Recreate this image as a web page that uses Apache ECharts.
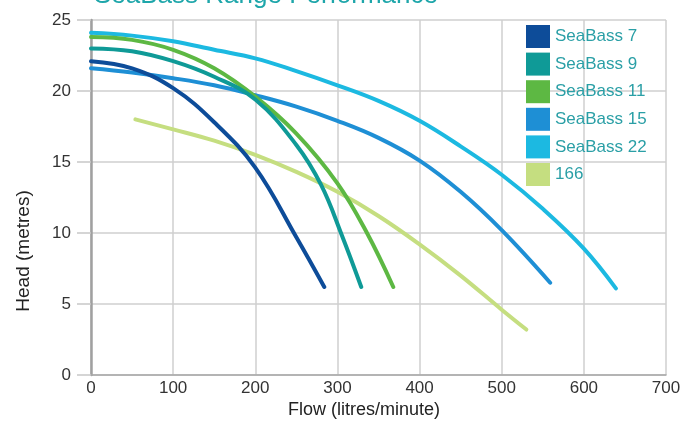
<!DOCTYPE html>
<html>
<head>
<meta charset="utf-8">
<script src="https://cdn.jsdelivr.net/npm/echarts@6/dist/echarts.min.js"></script>
<style>
html,body{margin:0;padding:0;background:#fff;}
#c{width:697px;height:427px;}
</style>
</head>
<body>
<div id="c"></div>
<script>
const titleText = 'SeaBass Range Performance';
const xName = 'Flow (litres/minute)';
const yName = 'Head (metres)';
const seriesNames = ['SeaBass 7', 'SeaBass 9', 'SeaBass 11', 'SeaBass 15', 'SeaBass 22', '166'];
const seriesColors = ['#0d4c99', '#0f9a97', '#5db843', '#1e8fd5', '#1cb9e1', '#c5de80'];

const seaBass7 = [[0,22.1],[50,21.6],[100,20.2],[150,17.8],[200,14.6],[250,9.7],[284,6.2]];
const seaBass9 = [[0,23.0],[50,22.8],[100,22.1],[150,21.0],[200,19.4],[250,16.2],[280,13.4],[305,9.9],[329,6.2]];
const seaBass11 = [[0,23.8],[50,23.6],[100,22.9],[150,21.6],[200,19.6],[250,17.0],[300,13.5],[336,10.0],[368,6.2]];
const seaBass15 = [[0,21.6],[50,21.3],[100,20.9],[150,20.4],[200,19.7],[250,18.9],[300,17.9],[350,16.7],[400,15.1],[450,12.9],[500,10.2],[559,6.5]];
const seaBass22 = [[0,24.1],[50,23.9],[100,23.5],[150,22.9],[200,22.3],[250,21.4],[300,20.4],[350,19.3],[400,17.9],[450,16.1],[500,14.1],[550,11.7],[600,8.9],[639,6.1]];
const model166 = [[54,18.0],[100,17.3],[150,16.5],[200,15.5],[250,14.3],[300,12.9],[350,11.2],[400,9.2],[450,7.0],[500,4.6],[530,3.2]];
const seriesData = [seaBass7, seaBass9, seaBass11, seaBass15, seaBass22, model166];

const xMin = 0, xMax = 700, xStep = 100;
const yMin = 0, yMax = 25, yStep = 5;

const chart = echarts.init(document.getElementById('c'));
const font = 'Liberation Sans, Arial, Helvetica, sans-serif';
chart.setOption({
  animation: false,
  backgroundColor: '#fff',
  title: {
    text: titleText,
    left: 94,
    top: -17,
    padding: 0,
    textStyle: { color: '#1ea6aa', fontSize: 26, fontWeight: 'normal', fontFamily: font }
  },
  legend: {
    orient: 'vertical',
    left: 521,
    top: 20,
    itemWidth: 24,
    itemHeight: 23,
    itemGap: 4.6,
    icon: 'rect',
    data: seriesNames,
    textStyle: { color: '#2a9fa6', fontSize: 17, fontFamily: font }
  },
  grid: { left: 91, right: 31, top: 20, bottom: 52, containLabel: false },
  xAxis: {
    type: 'value', min: xMin, max: xMax, interval: xStep,
    axisLine: { show: true, lineStyle: { color: '#a8a8a8', width: 1.5 } },
    axisTick: { show: false },
    axisLabel: { color: '#333', fontSize: 17, fontFamily: font, margin: 5 },
    splitLine: { show: true, lineStyle: { color: '#cfcfcf', width: 1.5 } }
  },
  yAxis: {
    type: 'value', min: yMin, max: yMax, interval: yStep,
    axisLine: { show: true, lineStyle: { color: '#a0a0a0', width: 2.5 } },
    axisTick: { show: true, inside: false, length: 14, lineStyle: { color: '#c8c8c8', width: 1.5 } },
    axisLabel: { color: '#333', fontSize: 17, fontFamily: font, margin: 20 },
    splitLine: { show: true, lineStyle: { color: '#cfcfcf', width: 1.5 } }
  },
  graphic: [
    { type: 'text', x: 364, y: 410, style: { text: xName, fill: '#222', font: '18px ' + font, textAlign: 'center', textVerticalAlign: 'middle' } },
    { type: 'text', x: 24, y: 251, rotation: Math.PI / 2, style: { text: yName, fill: '#222', font: '19px ' + font, textAlign: 'center', textVerticalAlign: 'middle' } }
  ],
  series: seriesNames.map((n, i) => ({
    name: n,
    type: 'line',
    data: seriesData[i],
    smooth: 0.4,
    showSymbol: false,
    symbol: 'none',
    itemStyle: { color: seriesColors[i] },
    lineStyle: { color: seriesColors[i], width: 4, cap: 'round', join: 'round' },
    z: 10 - i
  }))
});
</script>
</body>
</html>
